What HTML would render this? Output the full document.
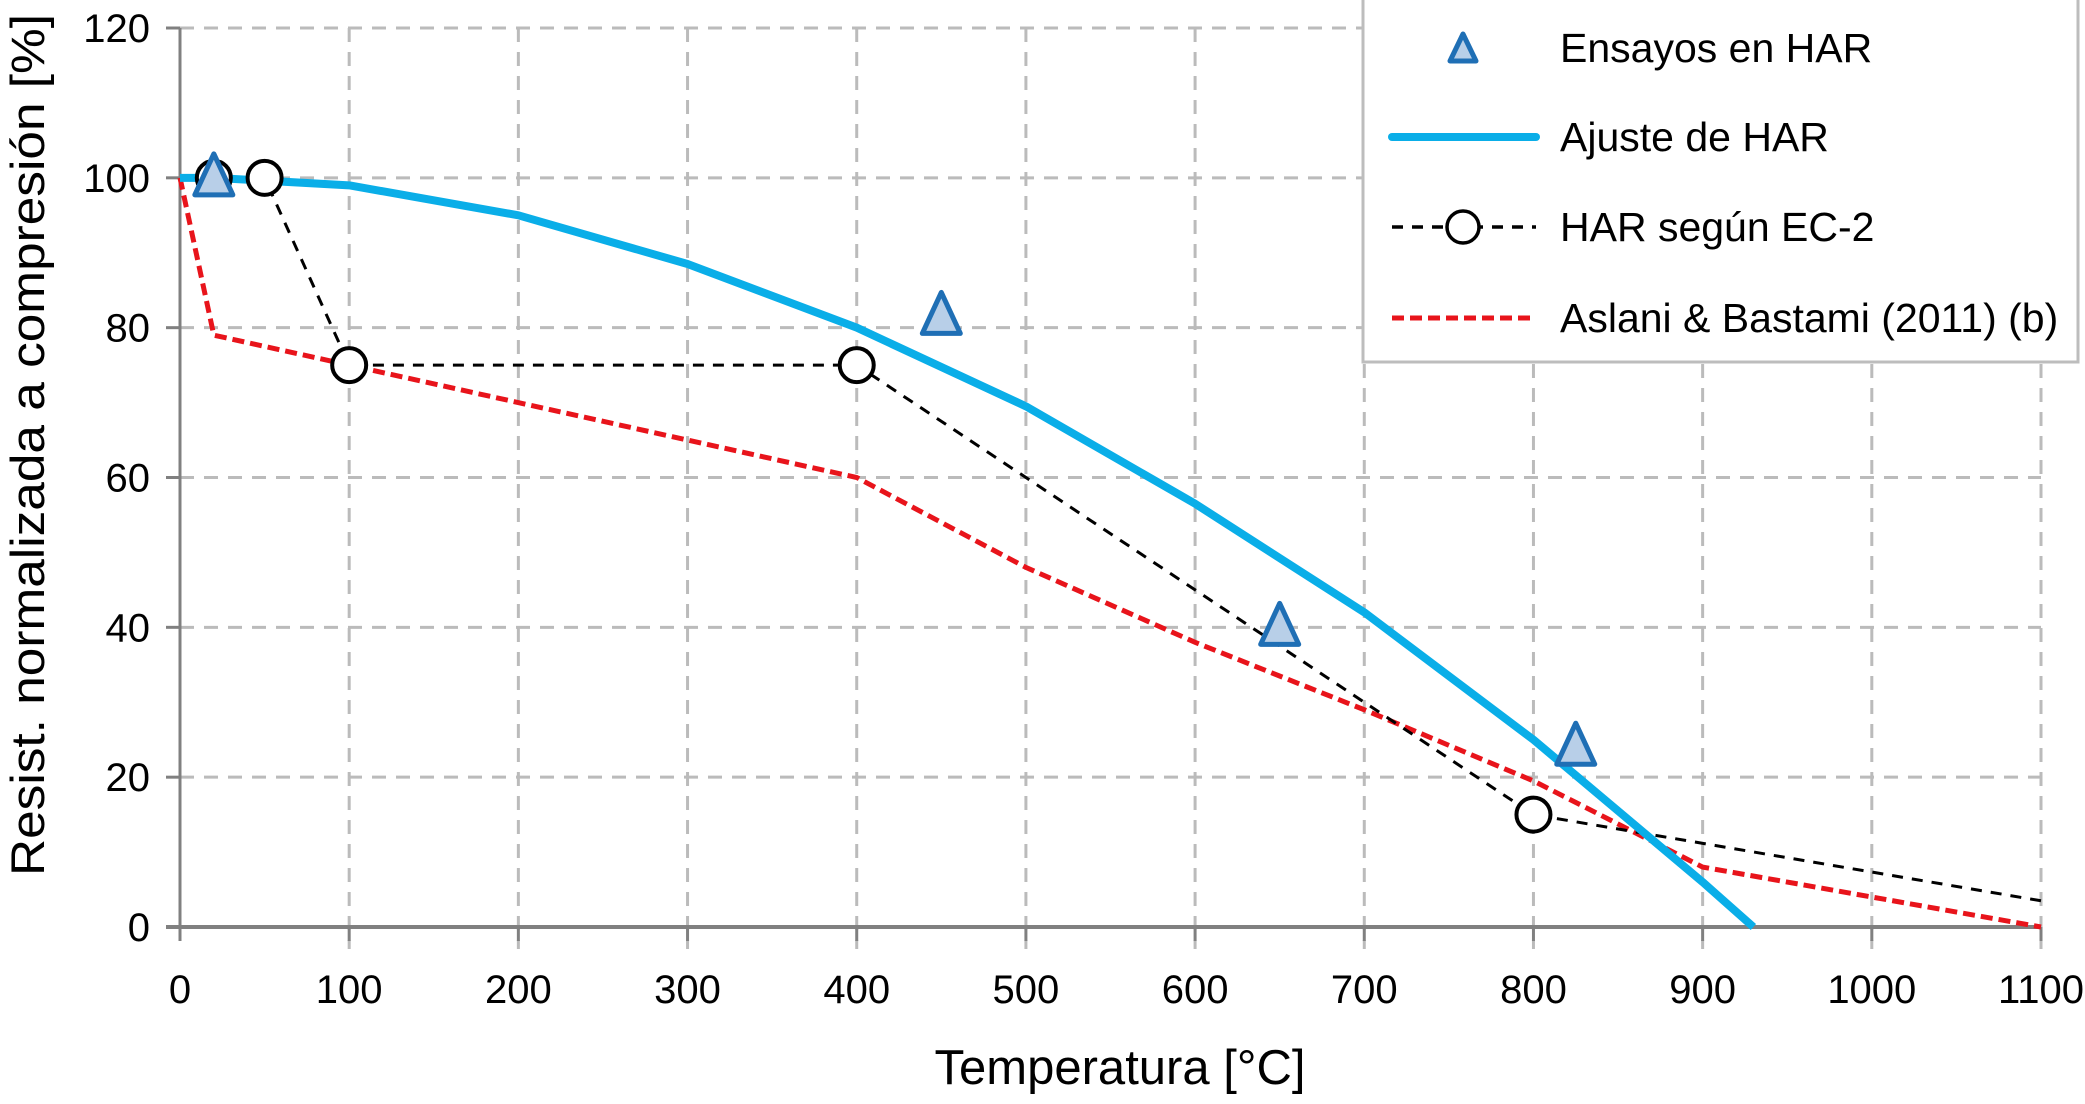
<!DOCTYPE html>
<html><head><meta charset="utf-8"><style>
html,body{margin:0;padding:0;background:#fff;}
svg{display:block;font-family:"Liberation Sans",sans-serif;}
</style></head><body>
<svg id="chart" width="2085" height="1104" viewBox="0 0 2085 1104">
<g id="grid"></g>
<g id="axes"></g>
<g id="series"></g>
<text x="1120" y="1084" font-size="49" text-anchor="middle">Temperatura [°C]</text>
<text transform="translate(44,445) rotate(-90)" font-size="47" text-anchor="middle" textLength="862" lengthAdjust="spacingAndGlyphs">Resist. normalizada a compresión [%]</text>
<g>
<rect x="1363" y="-2" width="715" height="364" fill="#fff" stroke="#bdbdbd" stroke-width="3"/>
<g>
<polygon points="1463,34 1476,61 1450,61" fill="#b8cfe8" stroke="#1f6fb5" stroke-width="5" stroke-linejoin="round"/>
<text x="1560" y="62" font-size="41">Ensayos en HAR</text></g>
<g>
<line x1="1392" y1="137" x2="1536" y2="137" stroke="#0aaee8" stroke-width="8" stroke-linecap="round"/>
<text x="1560" y="151" font-size="41">Ajuste de HAR</text></g>
<g>
<line x1="1392" y1="227" x2="1536" y2="227" stroke="#000" stroke-width="3.5" stroke-dasharray="11,9"/>
<circle cx="1463" cy="227" r="16" fill="#fff" stroke="#000" stroke-width="3.5"/>
<text x="1560" y="241" font-size="41">HAR según EC-2</text></g>
<g>
<line x1="1392" y1="318" x2="1536" y2="318" stroke="#e8141b" stroke-width="5" stroke-dasharray="12,6"/>
<text x="1560" y="332" font-size="41">Aslani &amp; Bastami (2011) (b)</text></g>
</g>
</svg>
<script>
const xTicks=[0,100,200,300,400,500,600,700,800,900,1000,1100];
const yTicks=[0,20,40,60,80,100,120];
const ensayosT=[20,450,650,825];
const ensayosV=[100,81.5,40,24];
const ajusteT=[0,20,100,200,300,400,500,600,700,800,900,930];
const ajusteV=[100,100,99,95,88.5,80,69.5,56.5,42,25,6,0];
const ec2T=[20,50,100,400,800,1100];
const ec2V=[100,100,75,75,15,3.5];
const ec2MarkT=[20,50,100,400,800];
const ec2MarkV=[100,100,75,75,15];
const aslaniT=[0,20,100,400,500,600,700,800,900,1100];
const aslaniV=[100,79,75,60,48,38,29,19.5,8,0];

const X0=180,X1=2041,Y0=927,Y1=28;
function sx(t){return X0+(t/1100)*(X1-X0);}
function sy(v){return Y0-(v/120)*(Y0-Y1);}
const NS="http://www.w3.org/2000/svg";
function mk(tag,attrs,parent){const e=document.createElementNS(NS,tag);for(const k in attrs)e.setAttribute(k,attrs[k]);parent.appendChild(e);return e;}
const grid=document.getElementById('grid'),axes=document.getElementById('axes'),ser=document.getElementById('series');

xTicks.forEach(t=>{
  if(t>0){const l=mk('line',{x1:sx(t),y1:Y1,x2:sx(t),y2:Y0+22,stroke:'#bbb','stroke-width':3,'stroke-dasharray':'14,10'},grid);
  
  }
  const tk=mk('line',{x1:sx(t),y1:Y0,x2:sx(t),y2:Y0+14,stroke:'#808080','stroke-width':3},axes);
  
  
  const tx=mk('text',{x:sx(t),y:1003,'font-size':40,'text-anchor':'middle'},axes);
  tx.textContent=t;
  
  
});
yTicks.forEach(v=>{
  if(v>0){const l=mk('line',{x1:X0,y1:sy(v),x2:X1,y2:sy(v),stroke:'#bbb','stroke-width':3,'stroke-dasharray':'14,10'},grid);
  
  }
  const tk=mk('line',{x1:X0-14,y1:sy(v),x2:X0,y2:sy(v),stroke:'#808080','stroke-width':3},axes);
  
  
  const tx=mk('text',{x:150,y:sy(v)+14,'font-size':40,'text-anchor':'end'},axes);
  tx.textContent=v;
  
  
});
const ya=mk('line',{x1:X0,y1:Y1,x2:X0,y2:Y0,stroke:'#808080','stroke-width':3},axes);


const xa=mk('line',{x1:X0-14,y1:Y0,x2:X1,y2:Y0,stroke:'#808080','stroke-width':4},axes);



function pts(T,V){return T.map((t,i)=>sx(t)+','+sy(V[i])).join(' ');}
const a=mk('polyline',{points:pts(aslaniT,aslaniV),fill:'none',stroke:'#e8141b','stroke-width':5,'stroke-dasharray':'12,6'},ser);


const e=mk('polyline',{points:pts(ec2T,ec2V),fill:'none',stroke:'#000','stroke-width':3,'stroke-dasharray':'11,9'},ser);


const b=mk('polyline',{points:pts(ajusteT,ajusteV),fill:'none',stroke:'#0aaee8','stroke-width':8,'stroke-linejoin':'round'},ser);


ec2MarkT.forEach((t,i)=>{
  const c=mk('circle',{cx:sx(t),cy:sy(ec2MarkV[i]),r:17,fill:'#fff',stroke:'#000','stroke-width':4},ser);
  
  
});
ensayosT.forEach((t,i)=>{
  const x=sx(t),y=sy(ensayosV[i]);
  const p=mk('polygon',{points:`${x},${y-24} ${x+19},${y+17} ${x-19},${y+17}`,fill:'#b8cfe8',stroke:'#1f6fb5','stroke-width':5,'stroke-linejoin':'round'},ser);
  
  
});
</script>
</body></html>
